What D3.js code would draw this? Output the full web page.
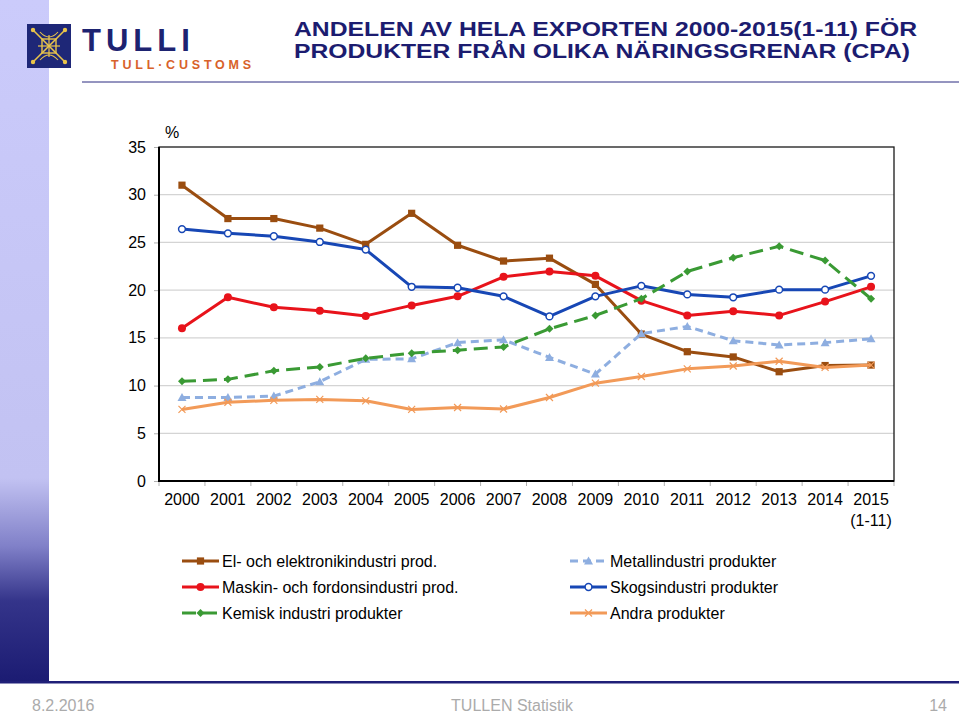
<!DOCTYPE html>
<html><head><meta charset="utf-8">
<script src="https://cdn.jsdelivr.net/npm/d3@7"></script>
<style>
html,body{margin:0;padding:0;background:#fff;}
svg{display:block;font-family:"Liberation Sans",Arial,Helvetica,sans-serif;}
</style></head>
<body>
<svg id="c" width="959" height="714"></svg>
<script>
// ---- data ----
const years = ["2000","2001","2002","2003","2004","2005","2006","2007","2008","2009","2010","2011","2012","2013","2014","2015"];
const xTickLabels = ["2000","2001","2002","2003","2004","2005","2006","2007","2008","2009","2010","2011","2012","2013","2014","2015\n(1-11)"];
const yTicks = [0,5,10,15,20,25,30,35];
const seriesNames = ["El- och elektronikindustri prod.","Metallindustri produkter","Maskin- och fordonsindustri prod.","Skogsindustri produkter","Kemisk industri produkter","Andra produkter"];
const elektronik = [31.0,27.5,27.5,26.5,24.8,28.05,24.7,23.05,23.35,20.6,15.4,13.55,13.0,11.45,12.1,12.15];
const metall     = [8.75,8.75,8.9,10.4,12.75,12.8,14.5,14.8,12.95,11.2,15.45,16.2,14.7,14.25,14.5,14.9];
const maskin     = [16.0,19.25,18.2,17.85,17.3,18.4,19.35,21.4,21.95,21.5,18.9,17.35,17.8,17.35,18.8,20.35];
const skogs      = [26.4,25.95,25.65,25.05,24.25,20.35,20.25,19.35,17.25,19.35,20.45,19.55,19.25,20.05,20.05,21.5];
const kemisk     = [10.45,10.65,11.55,11.95,12.85,13.4,13.7,14.05,15.95,17.35,19.1,21.95,23.4,24.6,23.1,19.1];
const andra      = [7.5,8.25,8.45,8.55,8.4,7.5,7.7,7.55,8.75,10.25,10.95,11.75,12.05,12.55,11.9,12.15];
const titleLines = ["ANDELEN AV HELA EXPORTEN 2000-2015(1-11) FÖR","PRODUKTER FRÅN OLIKA NÄRINGSGRENAR (CPA)"];
const footerTexts = ["8.2.2016","TULLEN Statistik","14"];

// ---- styles ----
const styles = [
  {values:elektronik, color:"#9a4d10", dash:null,   marker:"square"},
  {values:metall,     color:"#8eaee0", dash:"8,5",  marker:"triangle"},
  {values:maskin,     color:"#e8131b", dash:null,   marker:"dot"},
  {values:skogs,      color:"#1747b5", dash:null,   marker:"open"},
  {values:kemisk,     color:"#3a9a34", dash:"14,7", marker:"diamond"},
  {values:andra,      color:"#f29a58", dash:null,   marker:"x"}
];

const svg = d3.select("#c");
const font = '"Liberation Sans",Arial,Helvetica,sans-serif';

// left strip gradient
const defs = svg.append("defs");
const grad = defs.append("linearGradient").attr("id","strip").attr("x1",0).attr("y1",0).attr("x2",0).attr("y2",1);
[[0,"#cbcbfb"],[0.7,"#c2c2f2"],[0.8,"#8080c8"],[0.88,"#34348a"],[1,"#1b1b72"]].forEach(s=>grad.append("stop").attr("offset",s[0]).attr("stop-color",s[1]));
svg.append("rect").attr("x",0).attr("y",0).attr("width",49).attr("height",683).attr("fill","url(#strip)");
svg.append("rect").attr("x",0).attr("y",681).attr("width",959).attr("height",2.5).attr("fill","#1f1f78");

// header line under logo
svg.append("line").attr("x1",82).attr("x2",959).attr("y1",82).attr("y2",82).attr("stroke","#2a2a80").attr("stroke-width",1);

// logo square
const lg = svg.append("g");
lg.append("rect").attr("x",27).attr("y",24).attr("width",44).attr("height",44).attr("fill","#1e2777");
const gold = "#e9c44a";
const cx=49, cy=46;
lg.append("line").attr("x1",33).attr("y1",30).attr("x2",65).attr("y2",62).attr("stroke",gold).attr("stroke-width",1.6);
lg.append("line").attr("x1",65).attr("y1",30).attr("x2",33).attr("y2",62).attr("stroke",gold).attr("stroke-width",1.6);
lg.append("rect").attr("x",cx-7).attr("y",cy-7).attr("width",14).attr("height",14).attr("fill","none").attr("stroke",gold).attr("stroke-width",1.4);
lg.append("line").attr("x1",cx).attr("y1",cy-11).attr("x2",cx).attr("y2",cy+11).attr("stroke",gold).attr("stroke-width",1.2);
lg.append("line").attr("x1",cx-11).attr("y1",cy).attr("x2",cx+11).attr("y2",cy).attr("stroke",gold).attr("stroke-width",1.2);
[[33,30],[65,30],[33,62],[65,62]].forEach(p=>lg.append("circle").attr("cx",p[0]).attr("cy",p[1]).attr("r",2.2).attr("fill",gold));
lg.append("path").attr("d",`M${cx-9},${cy-14} Q${cx},${cy-4} ${cx+9},${cy-14} M${cx-9},${cy+14} Q${cx},${cy+4} ${cx+9},${cy+14}`).attr("fill","none").attr("stroke",gold).attr("stroke-width",1.1);

svg.append("text").attr("x",82).attr("y",51).attr("font-family",font).attr("font-weight","bold").attr("font-size",31).attr("letter-spacing",5).attr("fill","#1d2371").text("TULLI");
svg.append("text").attr("x",111).attr("y",69).attr("font-family",font).attr("font-weight","bold").attr("font-size",12.5).attr("letter-spacing",3.8).attr("fill","#d8622a").text("TULL·CUSTOMS");

// title
titleLines.forEach((t,i)=>{
  svg.append("text").attr("x",294).attr("y",36+i*22).attr("font-family",font).attr("font-weight","bold")
    .attr("font-size",21).attr("fill","#1c1c70")
    .attr("textLength", i===0?623:616).attr("lengthAdjust","spacingAndGlyphs").text(t);
});

// ---- chart ----
const L=159, R=894, T=147, B=481;
const x = d3.scaleBand().domain(years).range([L,R]).padding(0);
const xc = d => x(d) + x.bandwidth()/2;
const y = d3.scaleLinear().domain([0,35]).range([B,T]);

// gridlines
svg.append("g").selectAll("line").data(yTicks.filter(v=>v>0 && v<35)).join("line")
  .attr("x1",L).attr("x2",R).attr("y1",d=>y(d)).attr("y2",d=>y(d)).attr("stroke","#d4d4d4").attr("stroke-width",1.2);

// y axis
const yAxis = svg.append("g").attr("transform",`translate(${L},0)`)
  .call(d3.axisLeft(y).tickValues(yTicks).tickSize(5).tickPadding(8));
yAxis.select(".domain").remove();
yAxis.selectAll(".tick line").attr("stroke","#b0b0b0");
yAxis.selectAll(".tick text").attr("font-family",font).attr("font-size",16).attr("fill","#000");

// x axis labels
const xAxis = svg.append("g").attr("transform",`translate(0,${B})`)
  .call(d3.axisBottom(x).tickSize(0).tickPadding(0).tickFormat(""));
xAxis.select(".domain").remove();
xAxis.selectAll(".tick").each(function(d,i){
  const lines = xTickLabels[i].split("\n");
  const t = d3.select(this).append("text").attr("font-family",font).attr("font-size",16).attr("fill","#000").attr("text-anchor","middle");
  lines.forEach((ln,j)=>t.append("tspan").attr("x",0).attr("y",24+j*21).text(ln));
});
// boundary tick marks
const bounds = years.map(d=>x(d)).concat([R]);
svg.append("g").selectAll("line").data(bounds).join("line")
  .attr("x1",d=>d).attr("x2",d=>d).attr("y1",B).attr("y2",B+5).attr("stroke","#b0b0b0").attr("stroke-width",1);

// frame
svg.append("rect").attr("x",L).attr("y",T).attr("width",R-L).attr("height",B-T).attr("fill","none").attr("stroke","#1a1a1a").attr("stroke-width",1.3);
svg.append("line").attr("x1",L).attr("x2",L).attr("y1",T).attr("y2",B+1).attr("stroke","#000").attr("stroke-width",2);
svg.append("line").attr("x1",L).attr("x2",R).attr("y1",B).attr("y2",B).attr("stroke","#000").attr("stroke-width",2);

svg.append("text").attr("x",165).attr("y",138).attr("font-family",font).attr("font-size",16).text("%");

// marker drawer
function drawMarker(g, type, px, py, color){
  if(type==="square") g.append("rect").attr("x",px-3.6).attr("y",py-3.6).attr("width",7.2).attr("height",7.2).attr("fill",color);
  else if(type==="dot") g.append("circle").attr("cx",px).attr("cy",py).attr("r",4).attr("fill",color);
  else if(type==="open") g.append("circle").attr("cx",px).attr("cy",py).attr("r",3.4).attr("fill","#fff").attr("stroke",color).attr("stroke-width",1.5);
  else if(type==="triangle") g.append("path").attr("d",`M${px},${py-4.5}L${px+4.5},${py+3.5}L${px-4.5},${py+3.5}Z`).attr("fill",color);
  else if(type==="diamond") g.append("path").attr("d",`M${px},${py-4}L${px+4},${py}L${px},${py+4}L${px-4},${py}Z`).attr("fill",color);
  else if(type==="x") g.append("path").attr("d",`M${px-3.5},${py-3.5}L${px+3.5},${py+3.5}M${px+3.5},${py-3.5}L${px-3.5},${py+3.5}`).attr("stroke",color).attr("stroke-width",1.2).attr("fill","none");
}

const line = d3.line().x((d,i)=>xc(years[i])).y(d=>y(d));
styles.forEach(s=>{
  const g = svg.append("g");
  g.append("path").datum(s.values).attr("d",line).attr("fill","none").attr("stroke",s.color)
    .attr("stroke-width",3).attr("stroke-linejoin","round").attr("stroke-dasharray",s.dash);
  s.values.forEach((v,i)=>drawMarker(g,s.marker,xc(years[i]),y(v),s.color));
});

// legend (2 columns, row-major)
const legPos = [[182,561],[570,561],[182,587],[570,587],[182,613],[570,613]];
styles.forEach((s,i)=>{
  const [lx,ly] = legPos[i];
  const w = 37;
  const g = svg.append("g");
  g.append("line").attr("x1",lx).attr("x2",lx+w).attr("y1",ly).attr("y2",ly).attr("stroke",s.color).attr("stroke-width",3).attr("stroke-dasharray",s.dash);
  drawMarker(g,s.marker,lx+w/2,ly,s.color);
  g.append("text").attr("x",lx+w+3).attr("y",ly+6).attr("font-family",font).attr("font-size",16).attr("fill","#000").text(seriesNames[i]);
});

// footer
svg.append("text").attr("x",32).attr("y",711).attr("font-family",font).attr("font-size",16).attr("fill","#ababab").text(footerTexts[0]);
svg.append("text").attr("x",512).attr("y",711).attr("text-anchor","middle").attr("font-family",font).attr("font-size",16).attr("fill","#ababab").text(footerTexts[1]);
svg.append("text").attr("x",947).attr("y",711).attr("text-anchor","end").attr("font-family",font).attr("font-size",16).attr("fill","#ababab").text(footerTexts[2]);
</script>
</body></html>
